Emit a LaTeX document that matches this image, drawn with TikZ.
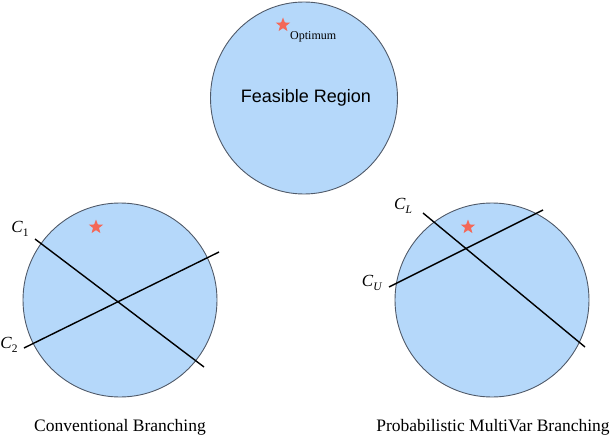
\documentclass[tikz,border=0pt]{standalone}
\usepackage{fontspec}
\setmainfont{Liberation Serif}
\newfontfamily\regionfont{Liberation Sans}
\usetikzlibrary{shapes.geometric}
\definecolor{regionfill}{RGB}{181,216,250}
\definecolor{regionedge}{RGB}{80,90,105}
\definecolor{starcol}{RGB}{244,104,88}
\newcommand{\cutname}[1]{\textit{C}\raisebox{-4pt}{\fontsize{11.5}{12}\selectfont #1}}
\tikzset{
  region/.style={ellipse, draw=regionedge, fill=regionfill, line width=0.9pt, inner sep=0pt},
  optstar/.style={star, star points=5, star point ratio=2.4, fill=starcol, draw=none, minimum size=15pt, inner sep=0pt},
  cutline/.style={line width=1.4pt, black},
  cutlabel/.style={inner sep=0pt, font=\fontsize{17}{19}\selectfont},
  caption/.style={inner sep=0pt, font=\fontsize{17.5}{20}\selectfont},
}
\begin{document}
\begin{tikzpicture}[x=1pt,y=-1pt]
\useasboundingbox (0,0) rectangle (614,436);
% top
\node[region, minimum width=187pt, minimum height=192pt] (top) at (304,98) {};
\node[font=\regionfont\fontsize{18}{20}\selectfont, inner sep=0pt] (fr) at (306,98) {Feasible Region};
\node[optstar] (s0) at (283,25) {};
\node[inner sep=0pt, anchor=west, font=\fontsize{12}{14}\selectfont] (opt) at (290,37) {Optimum};
% left
\node[region, minimum size=194pt] (left) at (120,300) {};
\node[optstar] (s1) at (96,227) {};
\coordinate (c1a) at (35,239);
\coordinate (c1b) at (204,367);
\coordinate (c2a) at (24,348);
\coordinate (c2b) at (219,252);
\draw[cutline] (c1a) -- (c1b);
\draw[cutline] (c2a) -- (c2b);
\node[cutlabel] (l1) at (20,229) {\cutname{1}};
\node[cutlabel] (l2) at (9,345) {\cutname{2}};
\node[caption] (cap1) at (120,427) {Conventional Branching};
% right
\node[region, minimum size=194pt] (right) at (492,300) {};
\node[optstar] (s2) at (468,227) {};
\coordinate (cla) at (423,213);
\coordinate (clb) at (585,347);
\coordinate (cua) at (389,287);
\coordinate (cub) at (543,210);
\draw[cutline] (cla) -- (clb);
\draw[cutline] (cua) -- (cub);
\node[cutlabel] (ll) at (403,206) {\cutname{\textit{L}}};
\node[cutlabel] (lu) at (372,283) {\cutname{\textit{U}}};
\node[caption] (cap2) at (493,427) {Probabilistic MultiVar Branching};
\end{tikzpicture}
\end{document}
